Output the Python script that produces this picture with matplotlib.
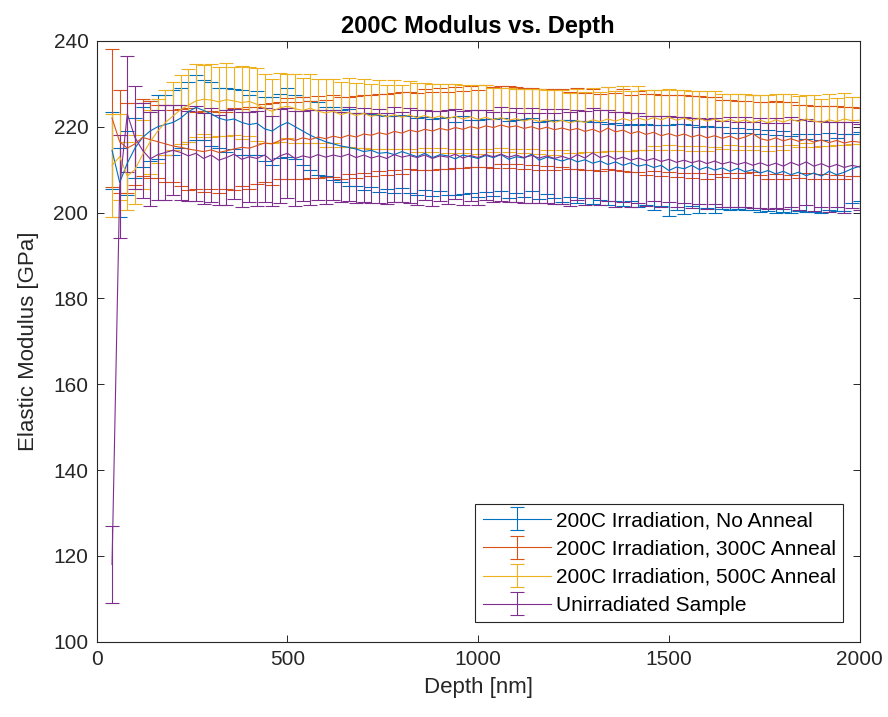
import numpy as np
import matplotlib
matplotlib.use("Agg")
import matplotlib.pyplot as plt
from matplotlib.legend_handler import HandlerErrorbar
from matplotlib.container import ErrorbarContainer

# depth grid [nm], one point every 20 nm
depth = np.arange(40, 2001, 20)

labels = [
    "200C Irradiation, No Anneal",
    "200C Irradiation, 300C Anneal",
    "200C Irradiation, 500C Anneal",
    "Unirradiated Sample",
]
colors = ["#0072BD", "#D95319", "#EDB120", "#7E2F8E"]

no_anneal = [
    214.5, 207.0, 211.5, 215.0, 217.5, 219.0, 220.0, 220.5, 221.0, 222.0,
    223.5, 224.5, 223.8, 223.0, 222.0, 221.5, 221.8, 221.0, 220.5, 220.8,
    219.5, 219.0, 220.2, 221.0, 220.0, 219.0, 218.0, 217.2, 216.5, 216.0,
    215.5, 215.2, 214.8, 214.2, 214.5, 213.8, 214.0, 213.5, 214.2, 213.6,
    213.0, 213.8, 212.8, 213.5, 213.2, 212.5, 213.4, 213.0, 212.6, 213.3,
    212.8, 213.5, 212.4, 213.0, 212.7, 213.6, 212.2, 212.9, 212.5, 212.0,
    212.6, 211.8, 212.3, 211.5, 212.0, 211.2, 211.8, 211.0, 211.6, 210.8,
    211.2, 210.5, 211.0, 209.8, 210.6, 210.2, 211.0, 210.0, 210.6, 209.9,
    210.4, 209.6, 210.3, 209.5, 210.0, 209.2, 209.8, 209.0, 209.6, 208.8,
    209.4, 208.6, 209.2, 208.5, 209.6, 208.8, 209.4, 210.2, 210.8,
]
no_anneal_err = [
    9.0, 8.0, 7.5, 7.0, 7.0, 7.0, 7.5, 7.0, 7.5, 7.0,
    7.0, 7.5, 7.0, 7.5, 7.0, 7.5, 7.0, 7.5, 7.0, 7.5,
    7.5, 8.0, 7.5, 8.0, 7.5, 8.0, 8.0, 8.5, 8.0, 8.5,
    8.5, 9.0, 8.5, 9.0, 8.5, 9.0, 8.5, 9.0, 8.5, 9.0,
    9.0, 8.5, 9.0, 8.5, 9.0, 8.5, 9.0, 8.5, 9.0, 8.5,
    9.0, 8.5, 9.0, 8.5, 9.0, 8.5, 9.0, 8.5, 9.0, 9.5,
    9.0, 9.5, 9.0, 9.5, 9.0, 9.5, 9.0, 9.5, 9.0, 9.5,
    9.5, 10.0, 9.5, 10.5, 10.0, 10.5, 9.5, 10.0, 9.5, 10.0,
    9.5, 9.0, 9.5, 9.0, 9.5, 9.0, 9.5, 9.0, 9.5, 9.0,
    9.0, 8.5, 9.0, 8.5, 9.0, 8.5, 9.0, 8.0, 8.0,
]

anneal_300 = [
    222.0, 216.5, 215.0, 216.0, 217.5, 217.0, 216.5, 216.0, 215.5, 215.2,
    214.8, 214.5, 214.2, 214.6, 214.0, 214.4, 214.8, 215.2, 215.0, 215.6,
    216.2, 216.0, 216.8, 217.2, 216.8, 217.4, 217.0, 217.6, 217.2, 217.8,
    217.4, 218.0, 217.6, 218.3, 218.0, 218.6, 218.2, 218.9, 218.5, 219.2,
    218.8, 219.4, 219.0, 219.6, 219.2, 219.8, 219.4, 220.0, 219.6, 220.2,
    219.8, 220.4, 219.9, 220.2, 219.6, 220.0, 219.4, 219.9, 219.3, 219.7,
    219.2, 219.6, 218.9, 219.4, 218.7, 219.7, 218.8, 219.2, 218.4, 218.9,
    218.2, 218.7, 217.9, 218.4, 217.8, 218.3, 217.6, 218.1, 217.4, 217.9,
    217.3, 217.8, 217.1, 217.6, 218.4, 217.2, 216.8, 217.4, 216.7, 217.2,
    216.6, 217.1, 216.4, 216.9, 216.3, 216.8, 216.2, 216.6, 216.4,
]
anneal_300_err = [
    16.0, 12.0, 10.5, 9.5, 9.0, 9.0, 8.5, 9.0, 8.5, 9.0,
    9.5, 9.0, 9.5, 9.0, 9.5, 9.0, 9.5, 9.0, 9.5, 9.0,
    9.0, 9.5, 9.0, 9.5, 9.0, 9.5, 9.0, 9.5, 9.0, 9.5,
    9.5, 9.0, 9.5, 9.0, 9.5, 9.0, 9.5, 9.0, 9.5, 9.0,
    9.0, 9.5, 9.0, 9.5, 9.0, 9.5, 9.0, 9.5, 9.0, 9.5,
    9.5, 9.0, 9.5, 9.0, 9.5, 9.0, 9.5, 9.0, 9.5, 9.0,
    9.0, 9.5, 9.0, 9.5, 9.0, 9.5, 9.0, 9.5, 9.0, 9.5,
    9.5, 9.0, 9.5, 9.0, 9.5, 9.0, 9.5, 9.0, 9.5, 9.0,
    9.0, 8.5, 9.0, 8.5, 9.0, 8.5, 9.0, 8.5, 9.0, 8.5,
    8.5, 8.0, 8.5, 8.0, 8.5, 8.0, 8.5, 8.0, 8.0,
]

anneal_500 = [
    211.0, 213.0, 208.5, 210.0, 213.5, 216.5, 219.0, 221.0, 222.5, 224.0,
    225.0, 226.0, 226.4, 226.2, 225.8, 226.3, 226.0, 225.6, 225.9, 225.2,
    224.2, 223.6, 224.4, 224.8, 224.2, 223.8, 224.3, 223.6, 223.2, 223.6,
    222.8, 223.3, 222.6, 223.1, 222.4, 222.9, 222.3, 222.8, 222.2, 222.7,
    222.1, 222.6, 222.0, 222.5, 221.9, 222.4, 221.8, 222.3, 221.7, 222.2,
    221.6, 222.1, 221.5, 221.9, 221.3, 221.8, 221.2, 221.6, 221.0, 221.5,
    220.9, 221.4, 221.0, 221.6, 221.2, 221.8, 221.3, 221.9, 221.4, 222.0,
    221.5, 222.1, 221.6, 222.2, 221.5, 222.0, 221.4, 221.9, 221.3, 221.8,
    221.2, 221.7, 221.1, 221.6, 221.0, 221.5, 220.9, 221.6, 221.1, 221.7,
    221.2, 221.8, 221.3, 221.0, 221.6, 221.2, 221.8, 221.4, 221.5,
]
anneal_500_err = [
    12.0, 10.0, 8.0, 8.0, 8.0, 7.5, 7.5, 7.5, 8.0, 8.0,
    8.5, 8.5, 8.0, 8.5, 8.0, 8.5, 8.0, 8.5, 8.0, 8.5,
    8.0, 7.5, 8.0, 7.5, 8.0, 7.5, 8.0, 7.5, 8.0, 7.5,
    7.5, 8.0, 7.5, 8.0, 7.5, 8.0, 7.5, 8.0, 7.5, 8.0,
    8.0, 7.5, 8.0, 7.5, 8.0, 7.5, 8.0, 7.5, 8.0, 7.5,
    7.5, 7.0, 7.5, 7.0, 7.5, 7.0, 7.5, 7.0, 7.5, 7.0,
    7.0, 7.5, 7.0, 7.5, 7.0, 7.5, 7.0, 7.5, 7.0, 7.5,
    7.0, 6.5, 7.0, 6.5, 7.0, 6.5, 7.0, 6.5, 7.0, 6.5,
    6.5, 6.0, 6.5, 6.0, 6.5, 6.0, 6.5, 6.0, 6.5, 6.0,
    6.0, 5.5, 6.0, 5.5, 6.0, 5.5, 6.0, 5.5, 5.5,
]

unirradiated = [
    118.0, 206.0, 223.0, 217.5, 214.5, 212.5, 213.5, 214.0, 214.5, 214.0,
    213.2, 213.8, 212.6, 213.4, 212.2, 212.8, 213.6, 212.4, 213.0, 212.6,
    213.4, 212.0, 213.2, 213.8, 212.6, 213.2, 212.8, 213.5, 212.9, 213.4,
    213.0, 213.6, 212.8, 213.4, 212.7, 213.2, 212.6, 213.5, 212.9, 213.3,
    212.8, 213.4, 212.6, 213.2, 212.9, 213.6, 212.7, 213.3, 212.8, 213.5,
    213.0, 213.6, 212.9, 213.4, 212.8, 213.3, 212.7, 213.2, 212.6, 213.1,
    212.5, 213.5, 212.7, 213.9, 212.8, 213.3, 212.4, 212.9, 212.2, 212.7,
    212.1, 212.6, 211.9, 212.4, 211.7, 212.2, 211.6, 212.1, 211.4, 212.0,
    211.3, 211.8, 211.2, 211.7, 211.0, 211.6, 210.9, 211.5, 210.8, 211.7,
    211.0, 211.8, 210.8, 211.4, 210.6, 211.2, 210.5, 211.0, 210.6,
]
unirradiated_err = [
    9.0, 12.0, 13.5, 12.0, 11.0, 11.0, 10.5, 11.0, 10.5, 11.0,
    10.5, 11.0, 10.5, 11.0, 10.5, 11.0, 10.5, 11.0, 10.5, 11.0,
    11.0, 10.5, 11.0, 10.5, 11.0, 10.5, 11.0, 10.5, 11.0, 10.5,
    10.5, 11.0, 10.5, 11.0, 10.5, 11.0, 10.5, 11.0, 10.5, 11.0,
    11.0, 10.5, 11.0, 10.5, 11.0, 10.5, 11.0, 10.5, 11.0, 10.5,
    10.5, 11.0, 10.5, 11.0, 10.5, 11.0, 10.5, 11.0, 10.5, 11.0,
    11.0, 10.5, 11.0, 10.5, 11.0, 10.5, 11.0, 10.5, 11.0, 10.5,
    10.5, 10.0, 10.5, 10.0, 10.5, 10.0, 10.5, 10.0, 10.5, 10.0,
    10.0, 10.5, 10.0, 10.5, 10.0, 10.5, 10.0, 10.5, 10.0, 10.5,
    10.5, 10.0, 10.5, 10.0, 10.5, 10.0, 10.5, 10.0, 10.0,
]

means = [no_anneal, anneal_300, anneal_500, unirradiated]
errs = [no_anneal_err, anneal_300_err, anneal_500_err, unirradiated_err]

plt.rcParams["font.family"] = ["Liberation Sans", "DejaVu Sans"]
ink = "#262626"

fig = plt.figure(figsize=(8.88, 7.17), dpi=100)
ax = fig.add_axes([0.109, 0.105, 0.859, 0.838])

for m, e, c, lab in zip(means, errs, colors, labels):
    ax.errorbar(depth, m, yerr=e, color=c, lw=0.8, elinewidth=0.8,
                capsize=5, capthick=0.8, label=lab)

ax.set_xlim(0, 2000)
ax.set_ylim(100, 240)
ax.set_xticks([0, 500, 1000, 1500, 2000])
ax.set_yticks(np.arange(100, 241, 20))
ax.tick_params(direction="in", top=True, right=True, length=5, width=0.7,
               colors=ink, labelsize=15, pad=6)
for s in ax.spines.values():
    s.set_color(ink)
    s.set_linewidth(0.8)

ax.set_xlabel("Depth [nm]", fontsize=16, color=ink, labelpad=6)
ax.set_ylabel("Elastic Modulus [GPa]", fontsize=16, color=ink, labelpad=10)
ax.set_title("200C Modulus vs. Depth", fontsize=17, fontweight="bold",
             color="black", pad=6)

leg = ax.legend(loc="lower right", fontsize=15, handlelength=3.3,
                fancybox=False, framealpha=1, borderpad=0.35,
                labelspacing=0.45, handletextpad=0.2, borderaxespad=0,
                bbox_to_anchor=(0.978, 0.032),
                handler_map={ErrorbarContainer: HandlerErrorbar(xerr_size=0.3, yerr_size=0.55)})
leg.get_frame().set_edgecolor(ink)
leg.get_frame().set_linewidth(0.8)

fig.savefig("out.png", dpi=100)
